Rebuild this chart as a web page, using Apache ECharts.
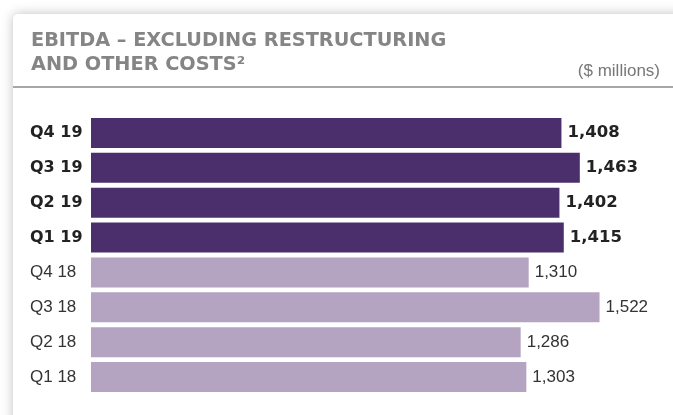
<!DOCTYPE html>
<html>
<head>
<meta charset="utf-8">
<script src="https://cdn.jsdelivr.net/npm/echarts@6/dist/echarts.min.js"></script>
<style>
    html, body { margin: 0; padding: 0; background: #fff; }
    #chart { width: 673px; height: 415px; }
</style>
</head>
<body>
<div id="chart"></div>
<script>
    // 季度标签（从上到下）
    const quarters = ['Q4 19', 'Q3 19', 'Q2 19', 'Q1 19', 'Q4 18', 'Q3 18', 'Q2 18', 'Q1 18'];
    // EBITDA（$ millions）
    const ebitda = [1408, 1463, 1402, 1415, 1310, 1522, 1286, 1303];
    const currentYear = '19';

    const titleText = 'EBITDA – EXCLUDING RESTRUCTURING\nAND OTHER COSTS²';
    const unitText = '($ millions)';

    const darkColor = '#4b2e6c';
    const lightColor = '#b4a4c2';

    let isCurrent = q => q.slice(-2) === currentYear;

    let chart = echarts.init(document.getElementById('chart'));
    chart.setOption({
        animation: false,
        graphic: [
            {
                type: 'rect',
                z: -10,
                shape: { x: 13, y: 14, width: 720, height: 460, r: 5 },
                style: { fill: '#fff', shadowBlur: 12, shadowColor: 'rgba(0,0,0,0.25)' }
            },
            {
                type: 'line',
                z: -5,
                shape: { x1: 13, y1: 87, x2: 673, y2: 87 },
                style: { stroke: '#8a8a8a', lineWidth: 1.5 }
            },
            {
                type: 'text',
                left: 31,
                top: 29,
                style: {
                    text: titleText,
                    fill: '#858585',
                    font: 'bold 19.3px "DejaVu Sans"',
                    lineHeight: 24
                }
            },
            {
                type: 'text',
                right: 13,
                top: 63,
                style: {
                    text: unitText,
                    fill: '#777',
                    font: '17px "Liberation Sans"'
                }
            }
        ],
        grid: { left: 91, right: 14, top: 115.5, bottom: 20.5 },
        xAxis: {
            type: 'value',
            min: 0,
            max: 1700,
            show: false
        },
        yAxis: {
            type: 'category',
            data: quarters,
            inverse: true,
            axisLine: { show: false },
            axisTick: { show: false },
            axisLabel: {
                align: 'left',
                margin: 61,
                formatter: v => isCurrent(v) ? '{b|' + v + '}' : '{r|' + v + '}',
                rich: {
                    b: { fontFamily: 'DejaVu Sans', fontWeight: 'bold', fontSize: 16, color: '#222' },
                    r: { fontFamily: 'Liberation Sans', fontSize: 17, color: '#333' }
                }
            }
        },
        series: [{
            type: 'bar',
            barWidth: 30,
            data: ebitda.map((v, i) => {
                let cur = isCurrent(quarters[i]);
                return {
                    value: v,
                    itemStyle: { color: cur ? darkColor : lightColor },
                    label: cur
                        ? { fontFamily: 'DejaVu Sans', fontWeight: 'bold', fontSize: 16.5, color: '#222' }
                        : { fontFamily: 'Liberation Sans', fontWeight: 'normal', fontSize: 17, color: '#333' }
                };
            }),
            label: {
                show: true,
                position: 'right',
                distance: 6,
                formatter: p => p.value.toLocaleString('en-US')
            }
        }]
    });
</script>
</body>
</html>
